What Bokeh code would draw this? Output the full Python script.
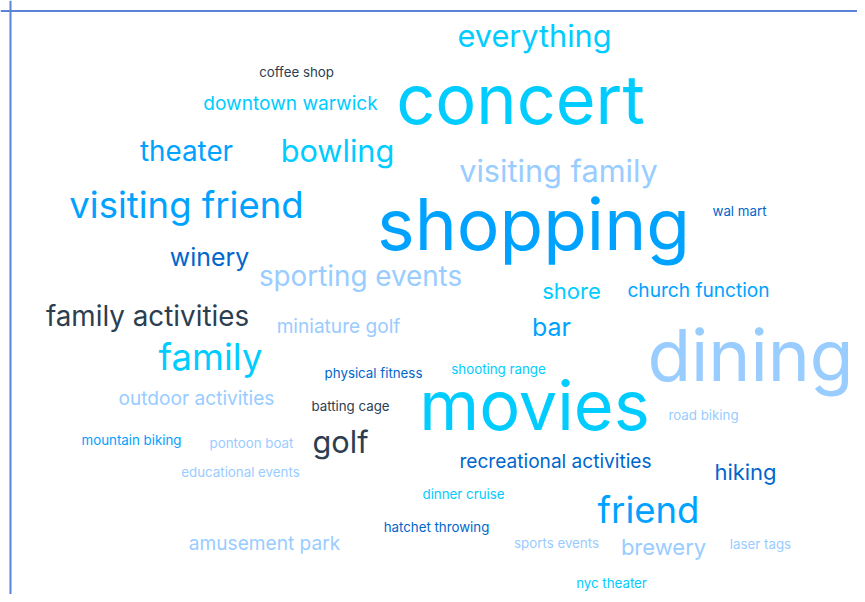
from bokeh.plotting import figure
from bokeh.models import ColumnDataSource, Range1d, Span
from bokeh.core.properties import value
from bokeh.embed import file_html
from bokeh.resources import INLINE

# ---- data -------------------------------------------------------------
words = ["everything", "coffee shop", "downtown warwick", "concert", "theater",
         "bowling", "visiting family", "visiting friend", "shopping", "wal mart",
         "winery", "sporting events", "shore", "church function",
         "family activities", "miniature golf", "bar", "dining", "family",
         "physical fitness", "shooting range", "outdoor activities",
         "batting cage", "movies", "road biking", "mountain biking",
         "pontoon boat", "golf", "educational events",
         "recreational activities", "hiking", "dinner cruise", "friend",
         "hatchet throwing", "amusement park", "sports events", "brewery",
         "laser tags", "nyc theater"]

counts = [7, 1, 3, 20, 6,
          7, 7, 9, 21, 1,
          5, 6, 4, 3,
          6, 3, 5, 21, 9,
          1, 1, 3,
          1, 20, 1, 1,
          1, 7, 1,
          3, 4, 1, 9,
          1, 3, 1, 4,
          1, 1]

groups = ["cyan", "slate", "cyan", "cyan", "mid",
          "cyan", "light", "mid", "mid", "navy",
          "navy", "light", "cyan", "mid",
          "slate", "light", "mid", "light", "cyan",
          "navy", "cyan", "light",
          "slate", "cyan", "light", "mid",
          "light", "slate", "light",
          "navy", "navy", "cyan", "mid",
          "navy", "light", "light", "light",
          "light", "cyan"]

# cloud layout (word centre, baseline) in layout units
layout_x = [534, 296, 290, 520, 186,
            337, 558, 186, 533, 739,
            209, 360, 571, 698,
            147, 338, 551, 750, 210,
            373, 498, 196,
            350, 534, 703, 131,
            251, 340, 240,
            555, 745, 463, 648,
            436, 264, 556, 663,
            760, 611]
layout_y = [47, 77, 110, 126, 162,
            162, 182, 219, 252, 216,
            266, 287, 299, 297,
            327, 333, 336, 383, 371,
            378, 374, 405,
            411, 432, 420, 445,
            448, 453, 477,
            468, 480, 499, 524,
            532, 550, 548, 555,
            549, 588]

palette = {"cyan": "#00ccff", "mid": "#00a2ff", "light": "#99ccff",
           "navy": "#0066cc", "slate": "#2c3e50"}

px = [10.4 + 2.9 * c for c in counts]
sizes = ["%.1fpx" % s for s in px]
offsets = [-0.40 * s for s in px]
colors = [palette[g] for g in groups]

src = ColumnDataSource(dict(x=layout_x, y=layout_y, text=words,
                            size=sizes, color=colors, yoff=offsets))

p = figure(width=857, height=594, output_backend="svg", toolbar_location=None,
           x_range=Range1d(0, 857), y_range=Range1d(594, 0),
           min_border=0, outline_line_color=None)
p.axis.visible = False
p.grid.visible = False
p.background_fill_color = "white"
p.border_fill_color = "white"

p.text(x="x", y="y", text="text", source=src,
       text_font=value("Inter"), text_font_size="size",
       text_color="color", text_align="center",
       text_baseline="alphabetic", y_offset="yoff")

border_color = "#5b83d9"
p.add_layout(Span(location=10, dimension="height",
                  line_color=border_color, line_width=2))
p.add_layout(Span(location=10.5, dimension="width",
                  line_color=border_color, line_width=2))

open("out.html", "w").write(file_html(p, INLINE))
